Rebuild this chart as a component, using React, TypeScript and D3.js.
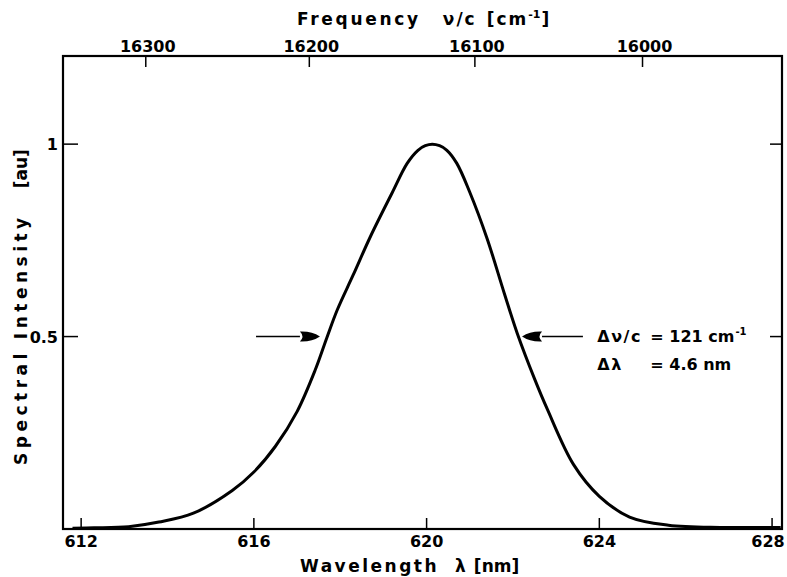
import React, { useEffect, useRef } from "react"
import * as d3 from "d3"

const W = 787
const H = 577
const FONT = "'DejaVu Sans', sans-serif"

// wavelength [nm] / spectral intensity [a.u.]
const wavelength = [611.8, 612.3, 613.1, 613.8, 614.6, 615.5, 616.0, 616.5, 617.0, 617.42, 617.69, 617.93, 618.3, 618.7, 619.2, 619.55, 619.8, 619.97, 620.13, 620.3, 620.47, 620.7, 621.0, 621.4, 621.8, 622.1, 622.5, 622.8, 623.4, 624.0, 624.7, 625.6, 626.8, 628.0, 628.2]
const intensity = [0.002, 0.003, 0.006, 0.018, 0.041, 0.1, 0.148, 0.215, 0.305, 0.413, 0.497, 0.569, 0.66, 0.76, 0.873, 0.95, 0.984, 0.996, 1.0, 0.996, 0.984, 0.95, 0.875, 0.755, 0.612, 0.508, 0.39, 0.31, 0.168, 0.085, 0.031, 0.01, 0.004, 0.004, 0.004]

const wlTicks = [612, 616, 620, 624, 628]
const nuTicks = [16300, 16200, 16100, 16000] // cm^-1
const yTicks = [0.5, 1]
const yTickLabels = ["0.5", "1"]

// half-width arrows (data space: tail -> tip, at intensity 0.5)
const arrowLeft = [616.05, 617.53]
const arrowRight = [623.62, 622.21]
const halfMax = 0.5

export default function App() {
  const ref = useRef<SVGSVGElement>(null)

  useEffect(() => {
    const svg = d3.select(ref.current)
    svg.selectAll("*").remove()

    const x = d3.scaleLinear().domain([611.58, 628.23]).range([63, 782])
    const y = d3.scaleLinear().domain([0, 1.229]).range([529, 56])
    const [x0, x1] = x.range()
    const [y0, y1] = y.range()

    const g = svg.append("g").attr("font-family", FONT).attr("font-weight", "bold").attr("fill", "#000")

    // frame
    g.append("rect")
      .attr("x", x0)
      .attr("y", y1)
      .attr("width", x1 - x0)
      .attr("height", y0 - y1)
      .attr("fill", "none")
      .attr("stroke", "#000")
      .attr("stroke-width", 2.2)

    // bottom ticks (inside); last label kept inside the page
    wlTicks.forEach((t) => {
      g.append("line").attr("x1", x(t)).attr("x2", x(t)).attr("y1", y0).attr("y2", y0 - 11).attr("stroke", "#000").attr("stroke-width", 1.5)
      g.append("text").attr("x", Math.min(x(t), W - 19)).attr("y", y0 + 18).attr("text-anchor", "middle").attr("font-size", 16).text(t)
    })

    // top ticks: frequency = 1e7 / lambda
    nuTicks.forEach((n) => {
      const px = x(1e7 / n)
      g.append("line").attr("x1", px).attr("x2", px).attr("y1", y1).attr("y2", y1 + 11).attr("stroke", "#000").attr("stroke-width", 1.5)
      g.append("text").attr("x", px + 2).attr("y", y1 - 4).attr("text-anchor", "middle").attr("font-size", 16).text(n)
    })

    // left / right ticks
    yTicks.forEach((t, i) => {
      g.append("line").attr("x1", x0).attr("x2", x0 + 15).attr("y1", y(t)).attr("y2", y(t)).attr("stroke", "#000").attr("stroke-width", 1.5)
      g.append("line").attr("x1", x1).attr("x2", x1 - 12).attr("y1", y(t)).attr("y2", y(t)).attr("stroke", "#000").attr("stroke-width", 1.5)
      g.append("text").attr("x", x0 - 5).attr("y", y(t) + 6).attr("text-anchor", "end").attr("font-size", 16).text(yTickLabels[i])
    })

    // top title
    const tt = g.append("text").attr("x", 297).attr("y", 25).attr("font-size", 17)
    tt.append("tspan").attr("letter-spacing", 2.7).text("Frequency")
    tt.append("tspan").attr("dx", 22).attr("letter-spacing", 2).text("ν/c")
    tt.append("tspan").attr("dx", 10).attr("letter-spacing", 2).text("[cm")
    tt.append("tspan").attr("dy", -7).attr("font-size", 11).text("-1")
    tt.append("tspan").attr("dy", 7).attr("dx", 1).text("]")

    // bottom title
    const bt = g.append("text").attr("x", 300).attr("y", 572).attr("font-size", 17)
    bt.append("tspan").attr("letter-spacing", 2.5).text("Wavelength")
    bt.append("tspan").attr("dx", 16).text("λ")
    bt.append("tspan").attr("dx", 8).text("[nm]")

    // left title (rotated)
    const lt = g.append("text").attr("transform", "translate(27,0) rotate(-90)").attr("x", -465).attr("y", 0).attr("font-size", 17)
    lt.append("tspan").attr("letter-spacing", 4.5).text("Spectral")
    lt.append("tspan").attr("dx", 10).attr("letter-spacing", 4.5).text("Intensity")
    lt.append("tspan").attr("dx", 25).text("[au]")

    // curve
    const pts = wavelength.map((w, i) => [w, intensity[i]] as [number, number])
    const line = d3.line<[number, number]>().x((d) => x(d[0])).y((d) => y(d[1])).curve(d3.curveCatmullRom.alpha(0.5))
    g.append("path").attr("d", line(pts)).attr("fill", "none").attr("stroke", "#000").attr("stroke-width", 3).attr("stroke-linejoin", "round")

    // arrows at half maximum
    const arrow = (from: number, to: number) => {
      const xa = x(from), xb = x(to), yy = y(halfMax)
      const dir = Math.sign(xb - xa)
      const hl = 20
      g.append("line").attr("x1", xa).attr("x2", xb - dir * hl).attr("y1", yy).attr("y2", yy).attr("stroke", "#000").attr("stroke-width", 1.6)
      g.append("path")
        .attr("d", `M${xb},${yy} Q${xb - dir * 8},${yy - 5.5} ${xb - dir * hl},${yy - 5} Q${xb - dir * (hl - 5)},${yy} ${xb - dir * hl},${yy + 5} Q${xb - dir * 8},${yy + 5.5} ${xb},${yy} Z`)
        .attr("fill", "#000")
    }
    arrow(arrowLeft[0], arrowLeft[1])
    arrow(arrowRight[0], arrowRight[1])

    // FWHM annotation
    const ax = x(624.0) - 2
    const ay = y(halfMax)
    g.append("text").attr("x", ax).attr("y", ay + 5).attr("font-size", 16).attr("letter-spacing", 1.5).text("Δν/c")
    const l1 = g.append("text").attr("x", ax + 53).attr("y", ay + 5).attr("font-size", 16).text("= 121 cm")
    l1.append("tspan").attr("dy", -7).attr("dx", 1).attr("font-size", 10).text("-1")
    g.append("text").attr("x", ax).attr("y", ay + 33).attr("font-size", 16).attr("letter-spacing", 1.5).text("Δλ")
    g.append("text").attr("x", ax + 53).attr("y", ay + 33).attr("font-size", 16).text("= 4.6 nm")
  }, [])

  return (
    <svg ref={ref} width={W} height={H} style={{ position: "absolute", left: 0, top: 0, background: "#fff" }} />
  )
}
